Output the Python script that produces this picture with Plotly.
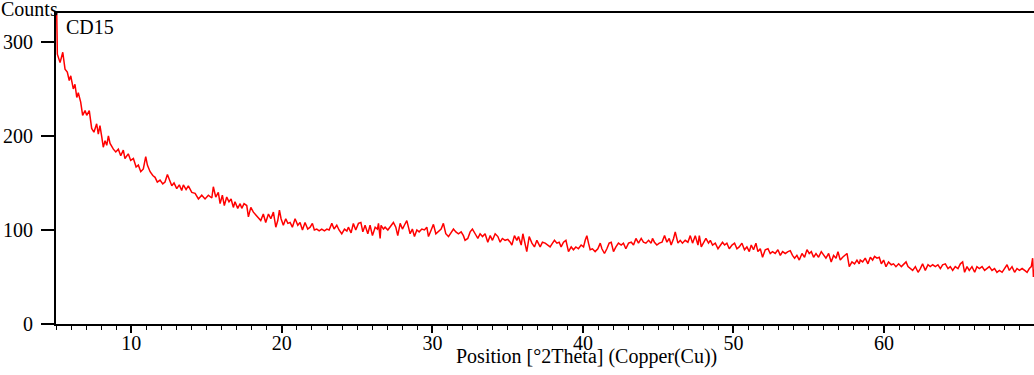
import plotly.graph_objects as go

# XRD scan of sample CD15
two_theta = [
    5.02, 5.09, 5.27, 5.45, 5.60, 5.75, 5.88, 5.98, 6.15, 6.26, 6.38, 6.48, 6.64, 6.77, 6.93,
    7.04, 7.21, 7.37, 7.52, 7.70, 7.81, 7.92, 8.04, 8.14, 8.26, 8.37, 8.48, 8.59, 8.81, 8.97,
    9.14, 9.30, 9.47, 9.58, 9.80, 9.96, 10.14, 10.32, 10.47, 10.63, 10.80, 10.96, 11.07, 11.25,
    11.43, 11.58, 11.73, 11.91, 12.09, 12.24, 12.40, 12.53, 12.69, 12.84, 13.02, 13.19, 13.35,
    13.46, 13.64, 13.79, 14.02, 14.24, 14.46, 14.68, 14.90, 15.12, 15.35, 15.45, 15.61, 15.78,
    15.90, 16.05, 16.18, 16.34, 16.49, 16.63, 16.78, 16.89, 17.07, 17.23, 17.34, 17.49, 17.67,
    17.78, 17.94, 18.11, 18.27, 18.44, 18.60, 18.77, 18.93, 19.11, 19.27, 19.44, 19.60, 19.73,
    19.84, 19.95, 20.10, 20.26, 20.40, 20.55, 20.70, 20.88, 21.06, 21.21, 21.37, 21.54, 21.72,
    21.88, 22.03, 22.16, 22.32, 22.48, 22.65, 22.83, 22.99, 23.14, 23.32, 23.47, 23.65, 23.80,
    23.98, 24.16, 24.32, 24.42, 24.60, 24.75, 24.91, 25.09, 25.25, 25.38, 25.53, 25.71, 25.86,
    26.02, 26.20, 26.35, 26.42, 26.53, 26.59, 26.75, 26.86, 27.04, 27.19, 27.41, 27.57, 27.70,
    27.86, 28.01, 28.14, 28.30, 28.41, 28.52, 28.67, 28.81, 28.97, 29.12, 29.30, 29.47, 29.63,
    29.74, 29.92, 30.07, 30.23, 30.40, 30.58, 30.73, 30.89, 31.07, 31.25, 31.40, 31.56, 31.73,
    31.91, 32.06, 32.17, 32.35, 32.51, 32.66, 32.84, 33.02, 33.17, 33.33, 33.50, 33.68, 33.84,
    33.99, 34.17, 34.35, 34.50, 34.65, 34.83, 35.01, 35.17, 35.28, 35.45, 35.61, 35.72, 35.90,
    36.01, 36.16, 36.27, 36.43, 36.61, 36.78, 36.94, 37.16, 37.31, 37.49, 37.67, 37.82, 37.98,
    38.11, 38.27, 38.42, 38.55, 38.71, 38.87, 39.04, 39.22, 39.37, 39.53, 39.70, 39.88, 40.04,
    40.15, 40.26, 40.37, 40.48, 40.63, 40.81, 40.99, 41.15, 41.26, 41.43, 41.59, 41.74, 41.88,
    42.03, 42.19, 42.36, 42.54, 42.69, 42.85, 43.03, 43.21, 43.36, 43.52, 43.69, 43.87, 44.02,
    44.18, 44.36, 44.53, 44.62, 44.75, 44.91, 45.07, 45.25, 45.42, 45.58, 45.73, 45.86, 46.02,
    46.13, 46.31, 46.46, 46.61, 46.79, 46.97, 47.13, 47.28, 47.46, 47.64, 47.73, 47.86, 48.01,
    48.17, 48.34, 48.46, 48.61, 48.79, 48.97, 49.12, 49.27, 49.41, 49.56, 49.72, 49.90, 50.07,
    50.23, 50.38, 50.56, 50.73, 50.89, 51.05, 51.18, 51.33, 51.49, 51.62, 51.78, 51.93, 52.11,
    52.29, 52.44, 52.59, 52.77, 52.95, 53.11, 53.26, 53.44, 53.62, 53.77, 53.92, 54.06, 54.21,
    54.37, 54.55, 54.72, 54.88, 55.03, 55.17, 55.32, 55.48, 55.65, 55.83, 55.98, 56.14, 56.32,
    56.49, 56.65, 56.81, 56.94, 57.09, 57.25, 57.43, 57.54, 57.69, 57.87, 58.04, 58.20, 58.35,
    58.42, 58.58, 58.75, 58.93, 59.09, 59.24, 59.37, 59.53, 59.68, 59.82, 59.97, 60.13, 60.30,
    60.48, 60.63, 60.79, 60.97, 61.15, 61.30, 61.46, 61.59, 61.74, 61.90, 62.08, 62.26, 62.41,
    62.56, 62.74, 62.92, 63.07, 63.23, 63.41, 63.58, 63.74, 63.89, 64.07, 64.25, 64.40, 64.56,
    64.73, 64.91, 65.07, 65.22, 65.35, 65.51, 65.66, 65.84, 66.02, 66.17, 66.33, 66.51, 66.68,
    66.84, 66.99, 67.17, 67.34, 67.50, 67.66, 67.84, 68.01, 68.17, 68.32, 68.50, 68.67, 68.83,
    68.99, 69.17, 69.34, 69.50, 69.65, 69.78, 69.87, 69.92, 69.98,
]

counts = [
    360, 287, 278, 289, 271, 268, 259, 264, 250, 255, 241, 246, 236, 222, 227,
    222, 227, 208, 204, 213, 202, 211, 199, 188, 195, 190, 200, 192, 186, 183,
    186, 179, 185, 176, 181, 174, 176, 167, 169, 162, 165, 178, 169, 162,
    158, 156, 151, 153, 149, 151, 159, 153, 147, 150, 144, 148, 142,
    148, 143, 147, 140, 139, 133, 137, 133, 137, 134, 146, 135, 140,
    128, 137, 126, 135, 130, 133, 124, 130, 123, 128, 123, 128, 126,
    114, 124, 119, 116, 114, 110, 117, 108, 117, 112, 119, 103, 110,
    121, 112, 105, 112, 107, 108, 103, 112, 105, 108, 100, 108, 101,
    103, 107, 100, 101, 99, 101, 99, 101, 100, 107, 101, 105, 100,
    96, 101, 99, 103, 97, 107, 100, 107, 108, 98, 105, 96, 105,
    94, 103, 101, 107, 91, 105, 101, 103, 100, 103, 108, 103, 94,
    107, 101, 105, 110, 103, 96, 101, 93, 100, 98, 101, 100, 103,
    93, 100, 106, 96, 98, 101, 107, 96, 93, 98, 101, 98, 96,
    98, 94, 89, 91, 98, 101, 96, 91, 96, 93, 96, 87, 94,
    89, 96, 93, 87, 91, 89, 90, 87, 84, 94, 89, 93, 84,
    96, 84, 77, 93, 86, 82, 89, 82, 87, 86, 84, 82, 86,
    89, 86, 87, 82, 87, 89, 77, 82, 79, 82, 80, 84, 82,
    89, 94, 86, 79, 80, 77, 80, 86, 80, 75, 80, 86, 87,
    77, 82, 86, 84, 86, 80, 86, 87, 84, 91, 86, 91, 87,
    86, 89, 86, 91, 87, 84, 86, 87, 94, 87, 91, 84, 91,
    98, 86, 89, 86, 89, 87, 94, 86, 94, 84, 94, 82, 87,
    91, 86, 89, 84, 86, 80, 84, 87, 84, 86, 80, 84, 86,
    80, 82, 86, 79, 82, 77, 84, 79, 86, 77, 80, 71, 79,
    80, 75, 77, 75, 79, 73, 77, 75, 77, 78, 73, 70, 73,
    68, 75, 71, 79, 75, 77, 71, 75, 71, 77, 73, 70, 75,
    66, 73, 70, 77, 68, 71, 73, 75, 61, 66, 64, 68, 64,
    68, 66, 70, 64, 71, 68, 72, 70, 71, 64, 68, 61, 66,
    63, 64, 61, 64, 61, 63, 66, 61, 59, 57, 61, 55, 59,
    64, 57, 63, 61, 63, 61, 63, 59, 63, 64, 59, 61, 57,
    61, 59, 64, 66, 55, 61, 57, 61, 55, 61, 59, 61, 57,
    59, 61, 57, 59, 55, 57, 55, 59, 63, 57, 61, 55, 59,
    57, 59, 57, 55, 59, 61, 70, 50, 58,
]

x_ticks = [10, 20, 30, 40, 50, 60]
y_ticks = [0, 100, 200, 300]

font_name = "Liberation Serif"

fig = go.Figure()
fig.add_trace(go.Scatter(x=two_theta, y=counts, mode="lines",
                         line=dict(color="#ff0000", width=1.5), showlegend=False))

fig.update_layout(
    width=1034, height=375,
    margin=dict(l=56, r=0, t=13, b=51),
    plot_bgcolor="white", paper_bgcolor="white",
    font=dict(family=font_name, size=20, color="black"),
    xaxis=dict(range=[5, 69.96], tickvals=x_ticks, showgrid=False, zeroline=False,
               showline=True, linecolor="black", linewidth=2, mirror=True,
               ticks="outside", ticklen=7, tickwidth=1.5, tickcolor="black",
               ticklabelstandoff=-7,
               minor=dict(dtick=1, ticks="outside", ticklen=4, tickwidth=1, tickcolor="black")),
    yaxis=dict(range=[0, 330.8], tickvals=y_ticks, showgrid=False, zeroline=False,
               showline=True, linecolor="black", linewidth=2,
               ticks="outside", ticklen=13, tickwidth=1.5, tickcolor="black",
               ticklabelstandoff=4),
    annotations=[
        dict(text="Counts", xref="paper", yref="paper", x=-0.0276, y=1.013,
             xanchor="center", yanchor="middle", showarrow=False),
        dict(text="CD15", xref="paper", yref="paper", x=0.008, y=0.955,
             xanchor="left", yanchor="middle", showarrow=False),
        dict(text="Position [°2Theta] (Copper(Cu))", xref="paper", yref="paper",
             x=0.542, y=-0.106, xanchor="center", yanchor="middle", showarrow=False),
    ],
)

fig.write_html("out.html", config={"displayModeBar": False},
               post_script="document.body.style.margin='0';")
